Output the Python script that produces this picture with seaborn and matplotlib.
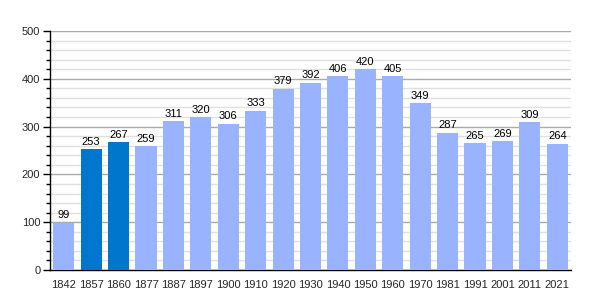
import matplotlib
matplotlib.use("Agg")
import matplotlib.pyplot as plt
import seaborn as sns
import pandas as pd
from matplotlib.ticker import MultipleLocator, FixedLocator

years = ["1842", "1857", "1860", "1877", "1887", "1897", "1900", "1910", "1920", "1930",
         "1940", "1950", "1960", "1970", "1981", "1991", "2001", "2011", "2021"]
values = [99, 253, 267, 259, 311, 320, 306, 333, 379, 392,
          406, 420, 405, 349, 287, 265, 269, 309, 264]
highlight = ["1857", "1860"]

light = "#99b3ff"
dark = "#0077cc"

df = pd.DataFrame({"year": years, "value": values})
palette = {y: (dark if y in highlight else light) for y in years}

sns.set_theme(style="white")
plt.rcParams["font.family"] = ["Liberation Sans", "DejaVu Sans"]

fig = plt.figure(figsize=(6, 3), dpi=100)
ax = fig.add_axes([50/600, 30/300, 521/600, 239/300])

sns.barplot(data=df, x="year", y="value", hue="year", palette=palette,
            width=0.77, saturation=1, legend=False, ax=ax, zorder=3, linewidth=0)

ax.set_ylim(0, 500)
ax.set_xlim(-0.5, len(years) - 0.5)
ax.yaxis.set_major_locator(MultipleLocator(100))
ax.yaxis.set_minor_locator(FixedLocator([v for v in range(0, 501, 20) if v % 100 != 0]))
ax.grid(which="major", axis="y", color="#aaaaaa", linewidth=1, linestyle="-", zorder=0)
ax.grid(which="minor", axis="y", color="#e0e0e0", linewidth=1, linestyle="-", zorder=0)
ax.set_axisbelow(True)

for s in ["top", "right"]:
    ax.spines[s].set_visible(False)
for s in ["left", "bottom"]:
    ax.spines[s].set_color("black")
    ax.spines[s].set_linewidth(1)

ax.tick_params(axis="y", which="major", left=True, length=5, width=1, color="black",
               labelsize=8, pad=2)
ax.tick_params(axis="y", which="minor", left=True, length=3, width=1, color="black")
ax.tick_params(axis="x", bottom=False, labelsize=8, pad=1)
ax.set_xlabel("")
ax.set_ylabel("")

for i, v in enumerate(values):
    ax.text(i, v + 5, str(v), ha="center", va="bottom", fontsize=8, color="black", zorder=4)

fig.savefig("out.png", dpi=100)
